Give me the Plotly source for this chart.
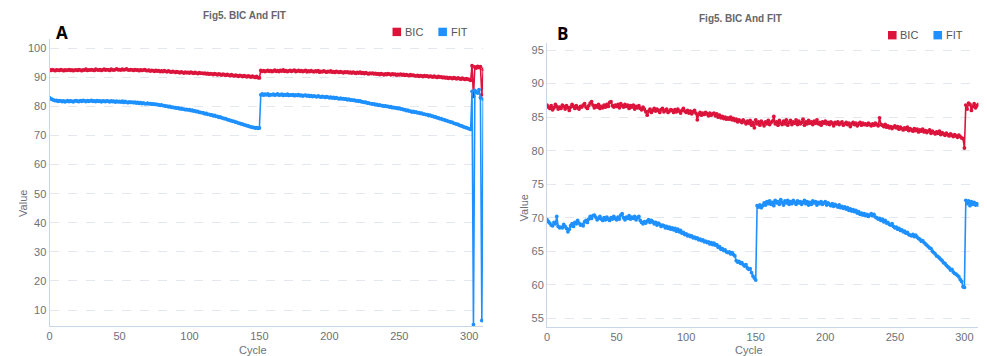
import plotly.graph_objects as go

# ---------------- data ----------------
# Panel A
a_bic = [
    92.6, 92.4, 92.7, 92.5, 92.3, 92.6, 92.5, 92.4, 92.7, 92.5,
    92.3, 92.6, 92.4, 92.5, 92.7, 92.4, 92.6, 92.3, 92.5, 92.6,
    92.4, 92.7, 92.5, 92.3, 92.6, 92.5, 92.8, 92.4, 92.6, 92.5,
    92.7, 92.5, 92.4, 92.8, 92.6, 92.5, 92.7, 92.4, 92.6, 92.8,
    92.5, 92.7, 92.6, 92.4, 92.8, 92.6, 92.5, 92.7, 92.9, 92.6,
    92.7, 92.5, 92.8, 92.6, 92.7, 92.9, 92.6, 92.5, 92.7, 92.6,
    92.4, 92.7, 92.5, 92.6, 92.3, 92.6, 92.4, 92.5, 92.7, 92.4,
    92.3, 92.5, 92.2, 92.4, 92.3, 92.1, 92.4, 92.2, 92.3, 92.0,
    92.2, 92.0, 92.3, 92.1, 91.9, 92.2, 92.0, 91.8, 92.1, 91.9,
    91.7, 92.0, 91.8, 91.6, 91.9, 91.7, 91.5, 91.8, 91.6, 91.7,
    91.5, 91.8, 91.6, 91.4, 91.7, 91.5, 91.3, 91.6, 91.4, 91.5,
    91.3, 91.5, 91.2, 91.4, 91.1, 91.3, 91.2, 91.0, 91.3, 91.1,
    90.9, 91.2, 91.0, 90.8, 91.1, 90.9, 90.7, 91.0, 90.8, 90.6,
    90.9, 90.7, 90.5, 90.8, 90.6, 90.4, 90.7, 90.5, 90.3, 90.6,
    90.4, 90.2, 90.5, 90.3, 90.1, 90.4, 90.2, 90.0, 90.3, 89.9,
    89.8,
    92.4, 92.1, 92.3, 92.0, 92.2, 92.4, 92.1, 92.3, 92.0,
    92.2, 92.5, 92.1, 92.3, 92.0, 92.4, 92.2, 92.6, 92.1, 92.3,
    92.0, 92.2, 92.4, 92.1, 92.3, 92.5, 92.0, 92.2, 92.4, 92.1,
    92.3, 92.0, 92.2, 92.4, 91.9, 92.2, 92.0, 92.3, 92.1, 91.9,
    92.2, 92.0, 92.3, 91.8, 92.1, 91.9, 92.2, 92.0, 91.8, 92.1,
    91.9, 92.2, 91.8, 92.0, 91.7, 92.1, 91.9, 91.7, 92.0, 91.8,
    91.6, 91.9, 91.7, 91.9, 91.6, 91.8, 91.5, 91.8, 91.6, 91.4,
    91.7, 91.5, 91.8, 91.4, 91.6, 91.3, 91.6, 91.4, 91.2, 91.5,
    91.3, 91.5, 91.2, 91.4, 91.1, 91.3, 91.0, 91.3, 91.1, 90.9,
    91.2, 91.0, 91.3, 91.1, 90.9, 91.2, 91.0, 91.1, 90.8, 91.0,
    90.9, 91.1, 90.8, 91.0, 90.7, 90.9, 90.8, 90.6, 90.9, 90.7,
    90.8, 90.6, 90.5, 90.7, 90.4, 90.6, 90.5, 90.3, 90.6, 90.4,
    90.5, 90.2, 90.4, 90.3, 90.1, 90.4, 90.2, 90.0, 90.3, 90.1,
    90.2, 89.9, 90.1, 89.8, 90.0, 89.7, 89.9, 89.8, 89.6, 89.9,
    89.7, 89.5, 89.8, 89.6, 89.4, 89.7, 89.5, 89.3, 89.6, 89.4,
    89.2,
    89.0, 94.0, 83.5, 93.6, 93.2, 93.8, 93.4, 93.7, 84.0, 92.8,
]

a_fit = [
    83.0, 82.6, 82.4, 82.2, 82.0, 82.1, 81.8, 82.0, 81.9, 81.7,
    81.9, 81.6, 81.8, 82.0, 81.7, 81.9, 81.8, 81.6, 81.9, 82.0,
    81.8, 81.7, 82.0, 81.8, 82.1, 81.9, 81.7, 82.0, 81.8, 81.9,
    82.1, 81.8, 81.9, 81.7, 82.0, 81.8, 81.9, 81.6, 81.9, 81.8,
    81.7, 81.9, 81.8, 81.6, 81.9, 81.7, 81.8, 81.5, 81.8, 81.6,
    81.7, 81.5, 81.8, 81.4, 81.7, 81.5, 81.3, 81.6, 81.4, 81.5,
    81.3, 81.5, 81.2, 81.4, 81.1, 81.3, 81.0, 81.2, 81.0, 80.9,
    81.1, 80.9, 81.0, 80.8, 80.9, 80.7, 80.8, 80.6, 80.6, 80.4,
    80.5, 80.3, 80.3, 80.1, 80.1, 79.9, 80.0, 79.7, 79.8, 79.6,
    79.6, 79.4, 79.5, 79.2, 79.3, 79.1, 79.1, 78.9, 79.0, 78.8,
    78.9, 78.6, 78.7, 78.4, 78.5, 78.2, 78.3, 78.0, 78.0, 77.8,
    77.8, 77.5, 77.6, 77.3, 77.3, 77.1, 77.1, 76.8, 76.9, 76.6,
    76.6, 76.3, 76.4, 76.1, 76.0, 75.8, 75.8, 75.5, 75.4, 75.2,
    75.1, 74.9, 74.9, 74.6, 74.5, 74.3, 74.2, 74.0, 73.9, 73.7,
    73.6, 73.4, 73.3, 73.1, 73.0, 72.8, 72.8, 72.6, 72.7, 72.5,
    72.6,
    84.0, 84.3, 83.9, 84.2, 84.0, 84.3, 83.8, 84.1, 84.0,
    84.2, 83.9, 84.1, 84.3, 83.9, 84.0, 84.2, 83.8, 84.1, 83.9,
    84.2, 83.8, 84.0, 83.9, 84.1, 83.7, 84.0, 83.8, 84.1, 83.7,
    83.9, 83.6, 83.8, 83.9, 83.6, 83.8, 83.5, 83.7, 83.4, 83.6,
    83.5, 83.3, 83.6, 83.4, 83.2, 83.5, 83.3, 83.1, 83.4, 83.2,
    83.0, 83.2, 82.9, 83.1, 82.8, 83.0, 82.8, 82.6, 82.9, 82.6,
    82.7, 82.5, 82.6, 82.3, 82.5, 82.2, 82.3, 82.1, 82.2, 81.9,
    82.0, 81.8, 81.9, 81.6, 81.6, 81.4, 81.5, 81.2, 81.2, 81.0,
    81.0, 80.8, 80.9, 80.6, 80.7, 80.4, 80.5, 80.3, 80.3, 80.1,
    80.2, 80.0, 80.0, 79.8, 79.9, 79.6, 79.7, 79.5, 79.5, 79.3,
    79.4, 79.1, 79.2, 78.9, 78.9, 78.6, 78.7, 78.4, 78.4, 78.1,
    78.3, 78.0, 78.1, 77.8, 77.9, 77.6, 77.7, 77.4, 77.4, 77.2,
    77.2, 76.9, 77.0, 76.7, 76.7, 76.4, 76.4, 76.1, 76.1, 75.8,
    75.8, 75.5, 75.5, 75.2, 75.1, 74.9, 74.8, 74.6, 74.5, 74.2,
    74.1, 73.9, 73.8, 73.5, 73.4, 73.2, 73.0, 72.8, 72.7, 72.5,
    72.3,
    72.1, 85.2, 5.0, 85.5, 85.0, 84.6, 85.8, 83.0, 6.4, 82.6,
]

# Panel B
b_bic = [
    86.8, 86.5, 86.3, 86.7, 86.1, 86.4, 86.9, 86.6, 86.2, 86.5,
    86.3, 86.8, 86.6, 86.2, 86.7, 86.4, 86.0, 86.5, 86.9, 86.6,
    86.3, 86.7, 86.4, 86.2, 86.6, 86.5, 86.8, 87.0, 86.5, 86.3,
    86.7, 87.1, 87.3, 86.8, 86.4, 86.7, 86.5, 86.9, 86.3, 86.6,
    86.4, 86.8, 86.5, 86.9, 86.6, 87.2, 87.3, 86.7, 86.5, 86.8,
    86.6, 86.9, 86.4, 87.0, 86.7, 86.5, 86.9, 86.6, 86.8, 86.3,
    86.7, 86.5, 86.8, 86.2, 86.6, 86.4, 86.7, 86.3, 86.1, 86.5,
    86.2, 85.8, 85.3, 85.9, 86.2, 85.7, 86.0, 86.3, 85.9, 86.2,
    86.0, 85.7, 86.1, 86.3, 85.8, 86.0, 86.2, 85.7, 85.9, 86.1,
    86.0, 85.7, 86.1, 85.8, 86.2, 85.9, 85.6, 86.0, 86.3, 85.9,
    85.7, 86.0, 85.6, 85.9, 85.5, 85.8, 86.0, 85.6, 84.6, 85.4,
    85.7, 85.3, 85.6, 85.4, 85.7, 85.5, 85.2, 85.6, 85.3, 85.5,
    85.6, 85.2, 85.5, 85.0, 85.3, 84.9, 85.1, 84.8, 85.0, 84.7,
    84.9, 84.7, 85.0, 84.6, 84.8, 84.5, 84.7, 84.3, 84.6, 84.4,
    84.2, 84.6, 84.3, 84.0, 84.4, 84.1, 84.5, 83.8, 84.2, 83.4,
    84.6,
    84.0, 84.3, 83.8, 84.4, 84.1, 83.7, 84.3, 84.0, 84.5,
    83.9, 84.2, 84.4, 85.1, 84.0, 84.3, 83.8, 84.5, 84.1, 83.9,
    84.4, 84.0, 84.6, 83.8, 84.2, 84.5, 83.9, 84.3, 84.1, 84.6,
    83.9, 84.4, 84.0, 84.2, 84.7, 83.8, 84.3, 84.0, 84.5, 84.1,
    84.3, 83.9, 84.4, 84.1, 84.6, 84.0, 84.2, 83.8, 84.3, 84.1,
    84.4, 84.0, 84.2, 83.9, 84.3, 84.1, 83.7, 84.2, 84.0, 84.3,
    83.9, 84.1, 84.3, 83.8, 84.0, 84.2, 83.9, 84.1, 83.6, 84.0,
    84.2, 83.9, 84.1, 83.7, 84.0, 84.2, 83.8, 84.1, 83.9, 84.0,
    83.8, 84.1, 83.9, 83.7, 84.0, 83.8, 84.1, 83.9, 83.7, 84.9,
    83.9, 83.8, 83.6, 83.9, 83.5, 83.7, 83.4, 83.6, 83.3, 83.5,
    83.7, 83.4, 83.6, 83.2, 83.5, 83.3, 83.1, 83.4, 83.2, 83.5,
    83.0, 83.3, 83.1, 82.9, 83.3, 83.0, 83.2, 82.8, 83.1, 82.9,
    83.2, 82.8, 83.0, 82.7, 82.9, 83.1, 82.6, 82.9, 82.7, 82.5,
    82.8, 82.6, 82.9, 82.4, 82.7, 82.5, 82.3, 82.6, 82.4, 82.2,
    82.5, 82.3, 82.1, 82.4, 82.2, 82.0, 82.3, 82.1, 81.9, 81.8,
    80.4,
    86.8, 86.2, 87.1, 86.9, 86.0, 86.6, 87.0, 86.4, 86.7, 86.9,
]

b_fit = [
    69.7, 69.4, 69.2, 68.9, 68.8, 69.3, 69.1, 70.2, 68.7, 68.5,
    68.6, 68.5, 69.0, 68.7, 68.4, 67.9, 68.3, 68.8, 69.1, 68.7,
    69.3, 69.1, 69.6, 69.2, 68.9, 69.0, 68.8, 69.4, 69.6, 69.3,
    69.8, 70.2, 69.9, 70.3, 70.4, 70.1, 69.7, 69.9, 70.2, 69.8,
    69.6, 70.0, 69.7, 70.1, 69.8, 69.6, 70.0, 69.8, 70.2, 69.9,
    69.7, 70.1, 69.8, 70.4, 70.6, 70.0, 69.7, 70.1, 69.9, 70.3,
    69.8, 70.1, 69.9, 70.2, 69.7, 70.0, 70.2, 69.6, 69.3, 69.1,
    69.4, 69.2, 69.5, 69.7, 69.3, 69.6, 69.4, 69.1, 69.3, 68.9,
    69.2, 69.0, 68.7, 68.9, 68.8, 68.5, 68.7, 68.4, 68.6, 68.3,
    68.5, 68.2, 68.4, 68.0, 68.3, 67.9, 68.1, 67.7, 67.8, 67.5,
    67.6, 67.3, 67.4, 67.2, 67.3, 67.0, 67.1, 66.9, 67.0, 66.7,
    66.8, 66.6, 66.7, 66.4, 66.5, 66.3, 66.4, 66.1, 66.3, 66.0,
    66.2, 65.9, 66.0, 65.6, 65.7, 65.3, 65.4, 65.1, 65.2, 64.9,
    64.8, 64.9, 64.6, 64.8, 64.5, 64.3, 63.6, 63.4, 63.5, 63.2,
    63.3, 63.0, 62.8, 63.0, 62.5, 62.3, 62.4, 61.8, 61.3, 61.0,
    60.7,
    71.8, 71.6, 71.9, 71.5, 71.8, 72.2, 71.9, 72.4, 72.1,
    72.5, 72.0, 72.3, 71.8, 72.6, 72.2, 72.4, 72.0, 72.7, 72.3,
    71.9, 72.5, 72.2, 72.6, 72.0, 72.4, 72.1, 72.6, 72.3, 72.0,
    72.5, 72.2, 72.4, 72.0, 72.3, 72.6, 72.1, 72.4, 71.9, 72.3,
    72.0, 72.5, 72.2, 72.4, 71.9, 72.3, 72.1, 72.4, 72.0, 72.2,
    72.4, 71.9, 72.2, 72.0, 71.8, 72.1, 71.7, 72.0, 71.8, 71.6,
    71.9, 71.5, 71.7, 71.4, 71.6, 71.3, 71.5, 71.1, 71.3, 71.0,
    71.2, 70.9, 71.1, 70.7, 70.9, 70.5, 70.7, 70.4, 70.6, 70.3,
    70.5, 70.2, 70.4, 70.6, 70.3, 70.5, 70.1, 70.0, 69.8, 69.9,
    69.6, 69.8, 69.4, 69.6, 69.2, 69.3, 69.0, 68.9, 69.1, 68.7,
    68.5, 68.6, 68.3, 68.4, 68.1, 68.2, 67.9, 68.0, 67.7, 67.8,
    67.5, 67.4, 67.3, 67.5, 67.2, 67.4, 67.1, 66.9, 66.8, 66.5,
    66.6, 66.3, 66.1, 65.9, 65.7, 65.5, 65.4, 65.0, 64.8, 64.6,
    64.3, 64.2, 64.0, 63.8, 63.6, 63.3, 63.2, 62.9, 62.7, 62.5,
    62.2, 62.3, 61.9, 61.7, 61.6, 61.4, 61.2, 60.8, 60.5, 59.7,
    59.6,
    72.6, 72.1, 72.5, 71.8, 72.4, 72.0, 72.3, 71.9, 72.1, 71.9,
]

x_ticks = [0, 50, 100, 150, 200, 250, 300]
a_y_ticks = [10, 20, 30, 40, 50, 60, 70, 80, 90, 100]
b_y_ticks = [55, 60, 65, 70, 75, 80, 85, 90, 95]
series_names = ["BIC", "FIT"]
panel_labels = ["A", "B"]
title_text = "Fig5. BIC And FIT"

# ---------------- style ----------------
W, H = 987, 356
RED = "#dc143c"
BLUE = "#1e90ff"
AXIS = "#c9d5e8"
GRID = "#e3e8f0"
TXT = "#6e7079"
FONT = "Liberation Sans, Arial, sans-serif"


def fx(p):
    return p / W


def fy(p):
    return 1 - p / H


fig = go.Figure()


def add_series(vals, name, color, xa, ya):
    fig.add_trace(go.Scatter(
        x=list(range(len(vals))), y=vals, name=name, mode="lines+markers",
        line=dict(color=color, width=1.6),
        marker=dict(color=color, size=3.8),
        xaxis=xa, yaxis=ya, showlegend=False,
    ))


add_series(a_bic, series_names[0], RED, "x", "y")
add_series(a_fit, series_names[1], BLUE, "x", "y")
add_series(b_bic, series_names[0], RED, "x2", "y2")
add_series(b_fit, series_names[1], BLUE, "x2", "y2")

xcommon = dict(
    range=[0, 310], tickvals=x_ticks, showgrid=False, zeroline=False,
    showline=True, linecolor=AXIS, linewidth=1, ticks="",
    tickfont=dict(size=11, color=TXT, family=FONT),
)
ycommon = dict(
    showgrid=True, gridcolor=GRID, griddash="dash", gridwidth=1,
    zeroline=False, showline=True, linecolor=AXIS, linewidth=1,
    ticks="", tickfont=dict(size=11, color=TXT, family=FONT),
)

fig.update_layout(
    width=W, height=H, margin=dict(l=0, r=0, t=0, b=0),
    paper_bgcolor="white", plot_bgcolor="white",
    font=dict(family=FONT, color=TXT),
    xaxis=dict(domain=[fx(46.7), fx(481.7)], anchor="y", **xcommon),
    yaxis=dict(domain=[fy(326), fy(39.3)], anchor="x", range=[4.5, 103.1],
               tickvals=a_y_ticks, **ycommon),
    xaxis2=dict(domain=[fx(545.7), fx(978.3)], anchor="y2", **xcommon),
    yaxis2=dict(domain=[fy(326.7), fy(42.7)], anchor="x2", range=[53.75, 96.1],
                tickvals=b_y_ticks, **ycommon),
)

ann = []
shapes = []


def text(x, y, s, size, color=TXT, bold=False, angle=0, family=FONT):
    ann.append(dict(
        x=fx(x), y=fy(y), xref="paper", yref="paper", text=s, showarrow=False,
        xanchor="center", yanchor="middle", textangle=angle,
        font=dict(size=size, color=color, family=family,
                  weight="bold" if bold else "normal"),
    ))


# titles
text(242.5, 15, title_text, 10, color="#666666", bold=True)
text(740, 18, title_text, 10, color="#666666", bold=True)
# panel labels
text(59.5, 32.5, panel_labels[0], 17, color="#000000", bold=True, family="Open Sans")
text(561, 33, panel_labels[1], 17, color="#000000", bold=True, family="Open Sans")
# axis titles
text(20, 203, "Value", 11, angle=-90)
text(523, 208, "Value", 11, angle=-90)
text(251, 349.5, "Cycle", 11)
text(748.7, 350, "Cycle", 11)


def legend_item(sx, sy, color, label):
    shapes.append(dict(type="rect", xref="paper", yref="paper",
                       x0=fx(sx), x1=fx(sx + 8.6), y0=fy(sy + 8.4), y1=fy(sy),
                       fillcolor=color, line=dict(width=0)))
    ann.append(dict(
        x=fx(sx + 10.5), y=fy(sy + 4.4), xref="paper", yref="paper", text=label,
        showarrow=False, xanchor="left", yanchor="middle",
        font=dict(size=11, color="#555555", family=FONT),
    ))


legend_item(390.7, 27.7, RED, series_names[0])
legend_item(436.7, 27.7, BLUE, series_names[1])
legend_item(887.7, 31, RED, series_names[0])
legend_item(933.3, 31, BLUE, series_names[1])

fig.update_layout(annotations=ann, shapes=shapes)

fig.write_html("out.html")
